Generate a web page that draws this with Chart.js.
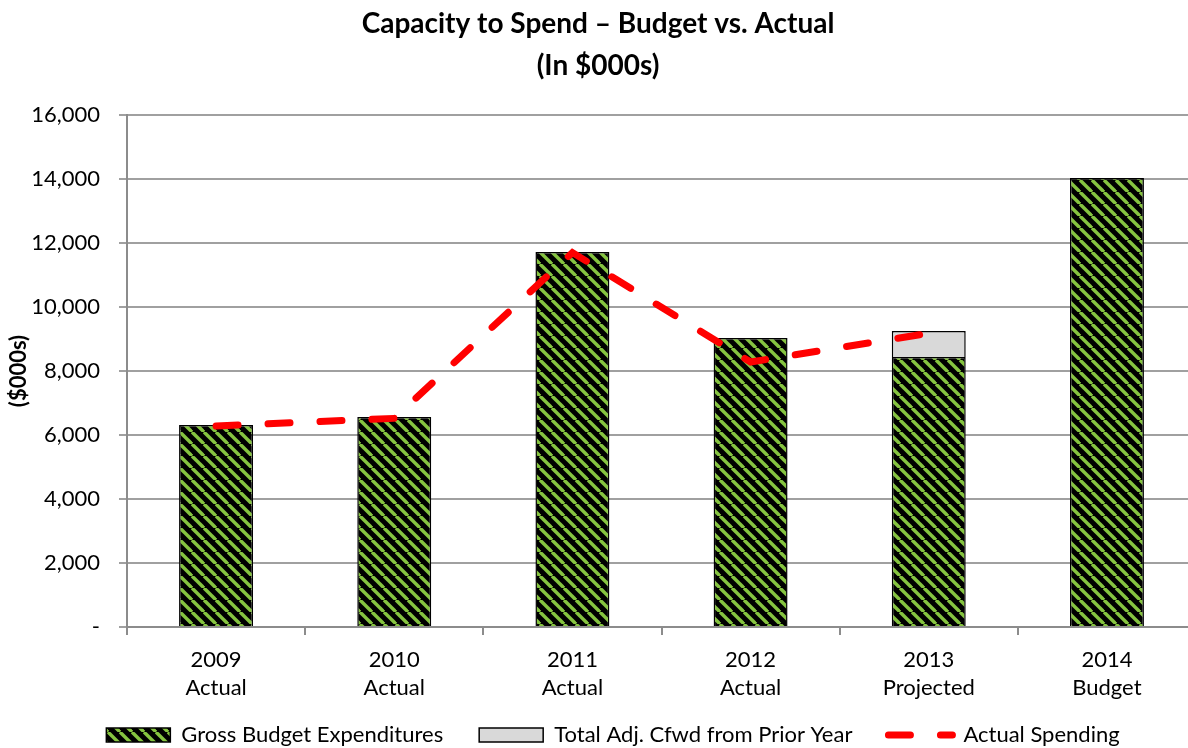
<!DOCTYPE html>
<html><head><meta charset="utf-8">
<script src="https://cdn.jsdelivr.net/npm/chart.js@4/dist/chart.umd.min.js"></script>
<style>html,body{margin:0;padding:0;background:#fff;overflow:hidden}#wrap{width:1200px;height:748px}</style>
</head><body><div id="wrap"><canvas id="c" width="1200" height="748"></canvas></div>
<script>
// ---- data ----
const categories = [['2009','Actual'],['2010','Actual'],['2011','Actual'],['2012','Actual'],['2013','Projected'],['2014','Budget']];
const grossBudget = [6310, 6560, 11720, 9030, 8440, 14030];
const cfwdPriorYear = [null, null, null, null, 810, null];
const actualSpending = [6280, 6520, 11700, 8280, 9180, null];
const seriesNames = ['Gross Budget Expenditures', 'Total Adj. Cfwd from Prior Year', 'Actual Spending'];
const titleLines = ['Capacity to Spend \u2013 Budget vs. Actual', '(In $000s)'];
const yAxisTitle = '($000s)';
const yMin = 0, yMax = 16000, yStep = 2000;

const FONT = 'Lato, "Open Sans", sans-serif';
Chart.defaults.font.family = FONT;
Chart.defaults.color = '#000';

function makePattern(){
  const s = 12;
  const c = document.createElement('canvas'); c.width = s; c.height = s;
  const g = c.getContext('2d');
  g.fillStyle = '#000'; g.fillRect(0, 0, s, s);
  g.strokeStyle = '#86c440'; g.lineWidth = 3.4;
  for (const k of [-s, 0, s]) { g.beginPath(); g.moveTo(k, 0); g.lineTo(k + s, s); g.stroke(); }
  return g.createPattern(c, 'repeat');
}
const stripe = makePattern();
const dash = [22, 30];

const layoutTweak = {
  id: 'layoutTweak',
  afterLayout(chart){
    const l = chart.legend;
    if (l) { l.left += 15; l.right += 15; l.top += 8; l.bottom += 8; }
    const x = chart.scales.x;
    if (x) { x.bottom += 40; }
  }
};

new Chart(document.getElementById('c'), {
  type: 'bar',
  data: {
    labels: categories,
    datasets: [
      { label: seriesNames[0], data: grossBudget, backgroundColor: stripe, borderColor: '#000', borderWidth: 1.5, stack: 'bars', order: 1 },
      { label: seriesNames[1], data: cfwdPriorYear, backgroundColor: '#d9d9d9', borderColor: '#000', borderWidth: 1.5, stack: 'bars', order: 1 },
      { type: 'line', label: seriesNames[2], data: actualSpending, borderColor: '#ff0000', borderWidth: 7, borderDash: dash, borderCapStyle: 'round', pointRadius: 0, fill: false, tension: 0, stack: 'line', order: 0 }
    ]
  },
  options: {
    responsive: false,
    animation: false,
    layout: { padding: { left: 0, right: 4, top: 0, bottom: 0 } },
    datasets: { bar: { barPercentage: 0.415, categoryPercentage: 1 } },
    scales: {
      x: {
        stacked: true,
        afterFit(s){ s.height = 53; },
        grid: { offset: true, drawOnChartArea: false, drawTicks: true, tickLength: 8, color: '#8c8c8c', lineWidth: 2 },
        border: { color: '#8c8c8c', width: 2 },
        ticks: { font: { size: 22, lineHeight: 1.27 }, color: '#000', padding: 11, maxRotation: 0 }
      },
      y: {
        stacked: true,
        min: yMin, max: yMax,
        afterFit(s){ s.width = 127; },
        grid: { color: '#a0a0a0', lineWidth: 2, tickLength: 8 },
        border: { color: '#8c8c8c', width: 2 },
        ticks: { stepSize: yStep, font: { size: 22 }, color: '#000', padding: 19,
          callback: v => v === 0 ? '-' : v.toLocaleString('en-US') },
        title: { display: true, text: yAxisTitle, font: { size: 22, weight: 'bold' }, color: '#000', padding: { top: 6, bottom: 0 } }
      }
    },
    plugins: {
      title: { display: true, text: titleLines, font: { size: 28, weight: 'bold', lineHeight: 1.5 }, color: '#000', padding: { top: 3, bottom: 28 } },
      tooltip: { enabled: false },
      legend: {
        position: 'bottom',
        labels: {
          usePointStyle: true, pointStyleWidth: 64, boxWidth: 64, boxHeight: 14, padding: 36,
          font: { size: 22 }, color: '#000',
          generateLabels(chart){
            const ds = chart.data.datasets;
            return [
              { text: ds[0].label, fillStyle: stripe, strokeStyle: '#000', lineWidth: 1.5, pointStyle: 'rect', datasetIndex: 0, fontColor: '#000' },
              { text: ds[1].label, fillStyle: '#d9d9d9', strokeStyle: '#000', lineWidth: 1.5, pointStyle: 'rect', datasetIndex: 1, fontColor: '#000' },
              { text: ds[2].label, fillStyle: 'rgba(0,0,0,0)', strokeStyle: '#ff0000', lineWidth: 7, lineDash: dash, lineCap: 'round', pointStyle: 'line', datasetIndex: 2, fontColor: '#000' }
            ];
          }
        }
      }
    }
  },
  plugins: [layoutTweak]
});
</script></body></html>
